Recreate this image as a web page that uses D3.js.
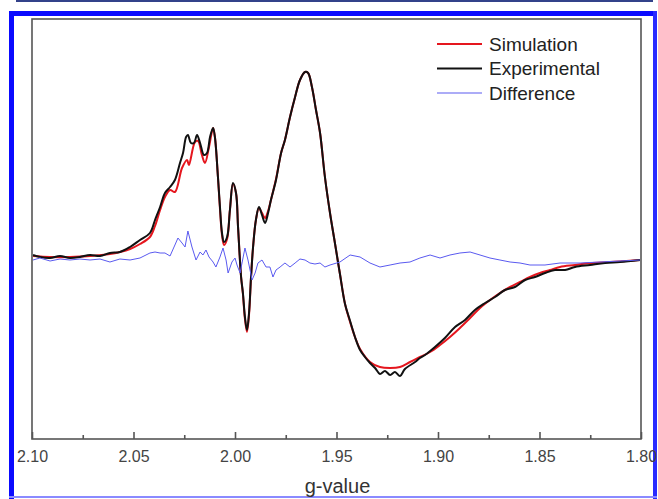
<!DOCTYPE html>
<head>
  <meta charset="utf-8">
  <script src="https://d3js.org/d3.v7.min.js"></script>
  <style>
    body { margin: 0; padding: 0; background: #fff; }
    svg { display: block; }
    text { font-family: "Liberation Sans", Arial, sans-serif; }
  </style>
</head>
<body>
  <script>
    // EPR spectrum, g-value axis runs right to left
    var gTicks = [2.10, 2.05, 2.00, 1.95, 1.90, 1.85, 1.80],
      gMinor = [2.075, 2.025, 1.975, 1.925, 1.875, 1.825],
      seriesNames = ["Simulation", "Experimental", "Difference"],
      seriesColors = ["#e5161e", "#111111", "#5a5af0"];

    // [g, intensity (arb. units)]
    var simulation = [[2.0995,3],[2.0911,2],[2.0813,2],[2.0714,3],[2.0616,5],[2.0567,7],[2.0517,10],[2.0468,15],[2.0419,22],[2.0394,33],[2.0369,49],[2.0345,62],[2.0320,69],[2.0296,67],[2.0261,91],[2.0236,99],[2.0227,94],[2.0197,117],[2.0182,118],[2.0163,104],[2.0148,96],[2.0128,112],[2.0108,131],[2.0099,122],[2.0084,82],[2.0074,50],[2.0064,24],[2.0054,14],[2.0039,20],[2.0025,49],[2.0010,75],[1.9995,66],[1.9985,32],[1.9970,-18],[1.9961,-35],[1.9951,-60],[1.9941,-73],[1.9931,-56],[1.9921,-18],[1.9911,12],[1.9897,39],[1.9882,51],[1.9867,46],[1.9852,41],[1.9837,48],[1.9823,59],[1.9798,80],[1.9773,106],[1.9754,119],[1.9729,142],[1.9704,162],[1.9680,179],[1.9655,187],[1.9640,186],[1.9621,172],[1.9601,149],[1.9581,126],[1.9557,82],[1.9532,46],[1.9507,15],[1.9483,-15],[1.9458,-45],[1.9433,-63],[1.9409,-78],[1.9384,-90],[1.9335,-103],[1.9286,-108],[1.9236,-109],[1.9187,-108],[1.9138,-103],[1.9089,-98],[1.9039,-93],[1.8990,-86],[1.8941,-78],[1.8892,-69],[1.8842,-59],[1.8793,-49],[1.8744,-41],[1.8695,-34],[1.8645,-28],[1.8596,-23],[1.8547,-18],[1.8498,-14],[1.8448,-11],[1.8399,-8],[1.8325,-6],[1.8251,-4],[1.8153,-3],[1.8005,-1]];

    var experimental = [[2.0995,4],[2.0961,2],[2.0911,1],[2.0862,3],[2.0813,1],[2.0764,2],[2.0714,4],[2.0665,3],[2.0616,6],[2.0567,7],[2.0517,12],[2.0468,19],[2.0419,26],[2.0394,39],[2.0369,52],[2.0345,66],[2.0320,72],[2.0296,79],[2.0271,96],[2.0256,106],[2.0241,122],[2.0232,124],[2.0217,116],[2.0202,116],[2.0187,124],[2.0172,116],[2.0153,104],[2.0138,106],[2.0123,122],[2.0108,131],[2.0099,122],[2.0084,82],[2.0074,52],[2.0064,26],[2.0054,17],[2.0039,22],[2.0025,49],[2.0010,76],[1.9995,66],[1.9985,32],[1.9970,-18],[1.9961,-34],[1.9951,-58],[1.9941,-71],[1.9931,-54],[1.9921,-18],[1.9911,12],[1.9897,39],[1.9882,52],[1.9867,44],[1.9852,36],[1.9837,46],[1.9823,59],[1.9798,79],[1.9773,106],[1.9754,119],[1.9729,142],[1.9704,162],[1.9680,179],[1.9655,187],[1.9640,186],[1.9621,172],[1.9601,149],[1.9581,126],[1.9557,82],[1.9532,46],[1.9507,15],[1.9483,-15],[1.9458,-45],[1.9433,-62],[1.9409,-78],[1.9384,-91],[1.9360,-98],[1.9335,-104],[1.9310,-109],[1.9286,-115],[1.9261,-112],[1.9236,-116],[1.9212,-113],[1.9187,-117],[1.9163,-110],[1.9113,-103],[1.9089,-99],[1.9064,-96],[1.9015,-88],[1.8966,-79],[1.8916,-68],[1.8867,-61],[1.8818,-51],[1.8768,-44],[1.8719,-38],[1.8670,-31],[1.8621,-28],[1.8571,-21],[1.8522,-18],[1.8473,-14],[1.8424,-11],[1.8374,-11],[1.8325,-8],[1.8251,-6],[1.8177,-4],[1.8103,-3],[1.8005,-1]];

    var difference = [[2.0995,-1],[2.0961,1],[2.0911,-2],[2.0862,0],[2.0813,-1],[2.0764,0],[2.0714,-1],[2.0665,0],[2.0616,-3],[2.0567,0],[2.0517,-1],[2.0468,1],[2.0419,6],[2.0394,7],[2.0369,6],[2.0345,6],[2.0320,3],[2.0296,14],[2.0281,21],[2.0261,16],[2.0246,12],[2.0232,28],[2.0212,12],[2.0192,-1],[2.0172,7],[2.0158,4],[2.0143,9],[2.0128,2],[2.0108,-3],[2.0094,-8],[2.0074,2],[2.0059,11],[2.0044,-1],[2.0034,-14],[2.0015,-3],[2.0000,1],[1.9990,-6],[1.9975,-14],[1.9951,11],[1.9936,-1],[1.9916,-21],[1.9901,-14],[1.9887,-4],[1.9867,-1],[1.9847,-8],[1.9828,-8],[1.9813,-18],[1.9798,-11],[1.9778,-8],[1.9754,-4],[1.9729,-8],[1.9704,-4],[1.9680,0],[1.9655,-1],[1.9631,-4],[1.9606,-5],[1.9581,-4],[1.9557,-8],[1.9532,-6],[1.9483,-3],[1.9433,4],[1.9384,2],[1.9335,-4],[1.9286,-8],[1.9236,-6],[1.9187,-4],[1.9138,-3],[1.9089,1],[1.9039,4],[1.8990,1],[1.8941,4],[1.8892,6],[1.8842,7],[1.8793,4],[1.8744,1],[1.8695,-1],[1.8645,-3],[1.8596,-4],[1.8547,-6],[1.8473,-6],[1.8399,-4],[1.8300,-4],[1.8202,-3],[1.8103,-2],[1.8005,-1]];

    var width = 658,
      height = 499;
    var margin = { top: 19, right: 17, bottom: 60, left: 32 };

    var svg = d3.select("body").append("svg")
      .attr("width", width)
      .attr("height", height);

    // page frame
    svg.append("rect").attr("x", 16).attr("y", 0).attr("width", 637).attr("height", 2).attr("fill", "#33428a");
    svg.append("rect").attr("x", 9).attr("y", 11).attr("width", 648).attr("height", 5).attr("fill", "#0a0aff");
    svg.append("rect").attr("x", 9).attr("y", 11).attr("width", 5).attr("height", 488).attr("fill", "#0a0aff");
    svg.append("rect").attr("x", 653).attr("y", 11).attr("width", 4).attr("height", 488).attr("fill", "#2a2aff");
    svg.append("rect").attr("x", 9).attr("y", 496).attr("width", 648).attr("height", 2).attr("fill", "#8a8aff");

    var x = d3.scaleLinear().domain([2.10, 1.80]).range([margin.left, width - margin.right]);
    var y = d3.scaleLinear().domain([-180, 240]).range([height - margin.bottom, margin.top]);

    var line = d3.line()
      .x(function (d) { return x(d[0]); })
      .y(function (d) { return y(d[1]); })
      .curve(d3.curveCatmullRom.alpha(0.5));

    var lineRaw = d3.line()
      .x(function (d) { return x(d[0]); })
      .y(function (d) { return y(d[1]); });

    svg.append("path").datum(simulation)
      .attr("d", line).attr("fill", "none")
      .attr("stroke", seriesColors[0]).attr("stroke-width", 2);
    svg.append("path").datum(experimental)
      .attr("d", line).attr("fill", "none")
      .attr("stroke", seriesColors[1]).attr("stroke-width", 2);
    svg.append("path").datum(difference)
      .attr("d", lineRaw).attr("fill", "none")
      .attr("stroke", seriesColors[2]).attr("stroke-width", 1);

    // plot box
    svg.append("rect")
      .attr("x", x(2.10)).attr("y", y(240))
      .attr("width", x(1.80) - x(2.10)).attr("height", y(-180) - y(240))
      .attr("fill", "none").attr("stroke", "#555").attr("stroke-width", 1.6);

    var xAxis = svg.append("g")
      .attr("transform", "translate(0," + y(-180) + ")")
      .call(d3.axisBottom(x).tickValues(gTicks).tickSize(-7).tickPadding(12)
        .tickFormat(d3.format(".2f")));
    xAxis.select(".domain").remove();
    xAxis.selectAll("line").attr("stroke", "#555").attr("stroke-width", 1.6);
    xAxis.selectAll("text").attr("font-size", 16).attr("fill", "#444")
      .style("font-family", "'Liberation Sans', Arial, sans-serif");

    var xMinor = svg.append("g")
      .attr("transform", "translate(0," + y(-180) + ")")
      .call(d3.axisBottom(x).tickValues(gMinor).tickSize(-4).tickFormat(""));
    xMinor.select(".domain").remove();
    xMinor.selectAll("line").attr("stroke", "#555").attr("stroke-width", 1.6);

    svg.append("text")
      .attr("x", (x(2.10) + x(1.80)) / 2 + 1)
      .attr("y", 493)
      .attr("text-anchor", "middle")
      .attr("font-size", 20)
      .attr("fill", "#333")
      .text("g-value");

    // legend
    var legend = svg.append("g").attr("transform", "translate(437,44)");
    seriesNames.forEach(function (name, i) {
      legend.append("line")
        .attr("x1", 0).attr("x2", 45)
        .attr("y1", i * 24.5).attr("y2", i * 24.5)
        .attr("stroke", seriesColors[i])
        .attr("stroke-width", i == 2 ? 1.2 : 2);
      legend.append("text")
        .attr("x", 52).attr("y", i * 24.5)
        .attr("dy", "0.36em")
        .attr("font-size", 19)
        .attr("fill", "#222")
        .text(name);
    });
  </script>
</body>
